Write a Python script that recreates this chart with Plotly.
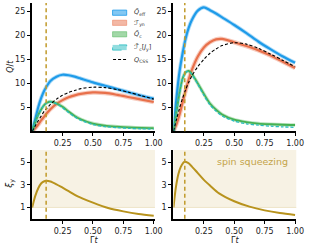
import plotly.graph_objects as go

# ---------------- data ----------------
t_grid = [0, 0.025, 0.05, 0.075, 0.1, 0.125, 0.15, 0.2, 0.25, 0.3, 0.35, 0.4, 0.5, 0.6, 0.7, 0.8, 0.9, 1.0]

# left panel
q_eff_L = [0, 2.5, 5.0, 7.0, 8.5, 9.6, 10.5, 11.4, 11.8, 11.7, 11.4, 11.0, 10.2, 9.5, 8.8, 8.1, 7.4, 6.8]
f_yn_L = [0, 0.6, 1.4, 2.3, 3.1, 3.9, 4.6, 5.7, 6.5, 7.1, 7.5, 7.8, 8.1, 8.0, 7.6, 7.1, 6.6, 6.1]
q_c_L = [0, 1.8, 3.4, 4.6, 5.5, 6.0, 6.2, 5.8, 5.1, 4.1, 3.2, 2.5, 1.6, 1.15, 0.95, 0.8, 0.7, 0.65]
f_c_L = [0, 1.8, 3.4, 4.6, 5.5, 6.0, 6.15, 5.7, 4.9, 3.9, 3.0, 2.3, 1.4, 0.95, 0.75, 0.6, 0.5, 0.45]
q_css_L = [0, 1.1, 2.2, 3.2, 4.2, 4.9, 5.6, 6.7, 7.5, 8.1, 8.5, 8.9, 9.2, 9.1, 8.7, 8.1, 7.4, 6.7]

# right panel
q_eff_R = [0, 7.0, 12.5, 16.3, 19.4, 21.6, 23.2, 25.2, 25.9, 25.3, 24.6, 23.8, 22.2, 20.5, 18.7, 17.1, 15.6, 14.3]
f_yn_R = [0, 1.5, 3.5, 6.0, 8.5, 10.8, 12.7, 15.6, 17.5, 18.6, 19.2, 19.3, 18.6, 17.8, 16.9, 15.8, 14.5, 13.2]
q_c_R = [0, 4.0, 8.0, 11.0, 12.3, 12.6, 12.0, 10.0, 7.8, 5.8, 4.5, 3.5, 2.4, 1.9, 1.6, 1.45, 1.35, 1.3]
f_c_R = [0, 4.0, 8.0, 11.0, 12.3, 12.5, 11.9, 9.8, 7.5, 5.5, 4.2, 3.2, 2.1, 1.55, 1.25, 1.05, 0.9, 0.8]
q_css_R = [0, 2.5, 4.8, 6.9, 8.7, 10.2, 11.5, 13.5, 15.0, 16.3, 17.2, 17.9, 18.5, 18.2, 17.3, 16.1, 14.8, 13.5]

# squeezing parameter
t_xi_L = [0, 0.025, 0.05, 0.075, 0.1, 0.115, 0.15, 0.2, 0.25, 0.3, 0.375, 0.5, 0.625, 0.75, 0.875, 1.0]
xi_L = [1.0, 2.0, 2.7, 3.15, 3.33, 3.36, 3.3, 3.05, 2.75, 2.45, 1.98, 1.43, 0.95, 0.65, 0.42, 0.27]
t_xi_R = [0, 0.02, 0.04, 0.06, 0.08, 0.09, 0.12, 0.15, 0.2, 0.25, 0.3, 0.375, 0.5, 0.625, 0.75, 0.875, 1.0]
xi_R = [1.0, 2.8, 3.95, 4.6, 4.95, 5.05, 4.95, 4.65, 4.05, 3.45, 2.95, 2.25, 1.55, 1.07, 0.74, 0.5, 0.33]

t_opt = [0.115, 0.093]

x_ticks = [0.25, 0.5, 0.75, 1.0]
x_tick_labels = ["0.25", "0.50", "0.75", "1.00"]
yq_ticks = [5, 10, 15, 20, 25]
yxi_ticks = [1, 3, 5]

legend_labels = ["<i>Q̄</i><sub>eff</sub>", "<i>ℱ</i><sub>yn</sub>", "<i>Q̄</i><sub>c</sub>",
                 "<i>ℱ̄</i><sub>c</sub>[<i>J</i><sub>y</sub>]", "<i>Q</i><sub>CSS</sub>"]

# ---------------- styles ----------------
W, H = 315, 250
BLUE = "#1e9be9"
ORANGE = "#e8714c"
GREEN = "#45b152"
TEAL = "#26bcc0"
GOLD = "#b8931d"
GOLD_L = "#c09a2a"
SHADE = "#f7f2e4"
FONT = "DejaVu Sans"

def px(x):
    return x / W

def py(y):
    return 1 - y / H

fig = go.Figure()

panels = [
    dict(xa="x", ya="y", data=(q_eff_L, f_yn_L, q_c_L, f_c_L, q_css_L)),
    dict(xa="x2", ya="y2", data=(q_eff_R, f_yn_R, q_c_R, f_c_R, q_css_R)),
]

for p in panels:
    qe, fy, qc, fc, qcss = p["data"]
    common = dict(xaxis=p["xa"], yaxis=p["ya"], showlegend=False, hoverinfo="skip")
    fig.add_trace(go.Scatter(x=t_grid, y=fy, mode="lines", line=dict(color=ORANGE, width=4.5, shape="spline", smoothing=0.8), opacity=0.35, **common))
    fig.add_trace(go.Scatter(x=t_grid, y=fy, mode="lines", line=dict(color=ORANGE, width=2.2, shape="spline", smoothing=0.8), **common))
    fig.add_trace(go.Scatter(x=t_grid, y=qe, mode="lines", line=dict(color=BLUE, width=4, shape="spline", smoothing=0.8), opacity=0.35, **common))
    fig.add_trace(go.Scatter(x=t_grid, y=qe, mode="lines", line=dict(color=BLUE, width=2.2, shape="spline", smoothing=0.8), **common))
    fig.add_trace(go.Scatter(x=t_grid, y=qc, mode="lines", line=dict(color=GREEN, width=3.5, shape="spline", smoothing=0.8), opacity=0.35, **common))
    fig.add_trace(go.Scatter(x=t_grid, y=qc, mode="lines", line=dict(color=GREEN, width=1.8, shape="spline", smoothing=0.8), **common))
    fig.add_trace(go.Scatter(x=t_grid, y=fc, mode="lines", line=dict(color=TEAL, width=1.3, dash="3px,2px", shape="spline", smoothing=0.8), **common))
    fig.add_trace(go.Scatter(x=t_grid, y=qcss, mode="lines", line=dict(color="black", width=1.1, dash="3px,2px", shape="spline", smoothing=0.8), **common))

fig.add_trace(go.Scatter(x=t_xi_L, y=xi_L, mode="lines", line=dict(color=GOLD, width=2, shape="spline", smoothing=0.8), xaxis="x3", yaxis="y3", showlegend=False, hoverinfo="skip"))
fig.add_trace(go.Scatter(x=t_xi_R, y=xi_R, mode="lines", line=dict(color=GOLD, width=2, shape="spline", smoothing=0.8), xaxis="x4", yaxis="y4", showlegend=False, hoverinfo="skip"))

shapes = []
for xa, ya in [("x3", "y3"), ("x4", "y4")]:
    shapes.append(dict(type="rect", xref=f"{xa} domain", yref=ya, x0=0, x1=1, y0=1, y1=6.1,
                       fillcolor=SHADE, line=dict(width=0), layer="below"))
    shapes.append(dict(type="line", xref=f"{xa} domain", yref=ya, x0=0, x1=1, y0=1, y1=1,
                       line=dict(color="#efe5c8", width=1), layer="below"))
for xa, ya, tv in [("x", "y", t_opt[0]), ("x3", "y3", t_opt[0]), ("x2", "y2", t_opt[1]), ("x4", "y4", t_opt[1])]:
    shapes.append(dict(type="line", xref=xa, yref=f"{ya} domain", x0=tv, x1=tv, y0=0, y1=1,
                       line=dict(color=GOLD_L, width=1.5, dash="4px,3px")))

leg_y = [12.7, 22.8, 34.3, 47.5, 59.5]
leg_fill = ["rgba(30,155,233,0.55)", "rgba(232,113,76,0.5)", "rgba(69,177,82,0.5)", "rgba(38,188,192,0.5)"]
leg_line = [BLUE, "rgba(232,113,76,0.6)", "rgba(69,177,82,0.6)", TEAL]
for i in range(4):
    shapes.append(dict(type="rect", xref="paper", yref="paper", x0=px(115.5), x1=px(130), y0=py(leg_y[i] + 2.6), y1=py(leg_y[i] - 2.6),
                       fillcolor=leg_fill[i], line=dict(color=leg_line[i], width=0.8, dash="dash" if i == 3 else "solid")))
shapes.append(dict(type="line", xref="paper", yref="paper", x0=px(116), x1=px(129.5), y0=py(leg_y[4]), y1=py(leg_y[4]),
                   line=dict(color="black", width=1, dash="3px,2px")))

annotations = []
for i, lab in enumerate(legend_labels):
    annotations.append(dict(text=lab, xref="paper", yref="paper", x=px(135), y=py(leg_y[i]), xanchor="left", yanchor="middle",
                            showarrow=False, font=dict(family=FONT, size=6.5, color="#333")))

annotations += [
    dict(text="<i>Q</i>/<i>t</i>", xref="paper", yref="paper", x=px(10), y=py(66), textangle=-90, showarrow=False,
         xanchor="center", yanchor="middle", font=dict(family=FONT, size=8, color="#222")),
    dict(text="<i>ξ</i><sub>y</sub>", xref="paper", yref="paper", x=px(10), y=py(184), textangle=-90, showarrow=False,
         xanchor="center", yanchor="middle", font=dict(family=FONT, size=9, color="#222")),
    dict(text="Γ<i>t</i>", xref="paper", yref="paper", x=px(96), y=py(240), showarrow=False,
         xanchor="center", yanchor="middle", font=dict(family=FONT, size=8, color="#222")),
    dict(text="Γ<i>t</i>", xref="paper", yref="paper", x=px(241), y=py(240), showarrow=False,
         xanchor="center", yanchor="middle", font=dict(family=FONT, size=8, color="#222")),
    dict(text="spin squeezing", xref="paper", yref="paper", x=px(259), y=py(161.5), showarrow=False,
         xanchor="center", yanchor="middle", font=dict(family=FONT, size=9.5, color="#c4a449")),
]

axis_common = dict(showline=True, linecolor="black", linewidth=1.5, ticks="outside", ticklen=3.5, tickwidth=1.1,
                   tickcolor="black", showgrid=False, zeroline=False,
                   tickfont=dict(family=FONT, size=8, color="#222"))

xd_L = [px(33), px(159)]
xd_R = [px(178), px(304)]
yd_T = [py(131.2), py(3)]
yd_B = [py(218.7), py(150)]

fig.update_layout(
    width=W, height=H, margin=dict(l=0, r=0, t=0, b=0),
    paper_bgcolor="white", plot_bgcolor="white",
    xaxis=dict(domain=xd_L, anchor="y", range=[0, 1.01], tickvals=x_ticks, ticktext=x_tick_labels, **axis_common),
    yaxis=dict(domain=yd_T, anchor="x", range=[0, 26.8], tickvals=yq_ticks, **axis_common),
    xaxis2=dict(domain=xd_R, anchor="y2", range=[0, 1.01], tickvals=x_ticks, ticktext=x_tick_labels, **axis_common),
    yaxis2=dict(domain=yd_T, anchor="x2", range=[0, 26.8], tickvals=yq_ticks, **axis_common),
    xaxis3=dict(domain=xd_L, anchor="y3", range=[0, 1.01], tickvals=x_ticks, ticktext=x_tick_labels, **axis_common),
    yaxis3=dict(domain=yd_B, anchor="x3", range=[0, 6.1], tickvals=yxi_ticks, **axis_common),
    xaxis4=dict(domain=xd_R, anchor="y4", range=[0, 1.01], tickvals=x_ticks, ticktext=x_tick_labels, **axis_common),
    yaxis4=dict(domain=yd_B, anchor="x4", range=[0, 6.1], tickvals=yxi_ticks, **axis_common),
    shapes=shapes, annotations=annotations,
)

fig.write_html("out.html", config={"displayModeBar": False},
               post_script="document.body.style.margin='0';document.body.style.overflow='hidden';")
